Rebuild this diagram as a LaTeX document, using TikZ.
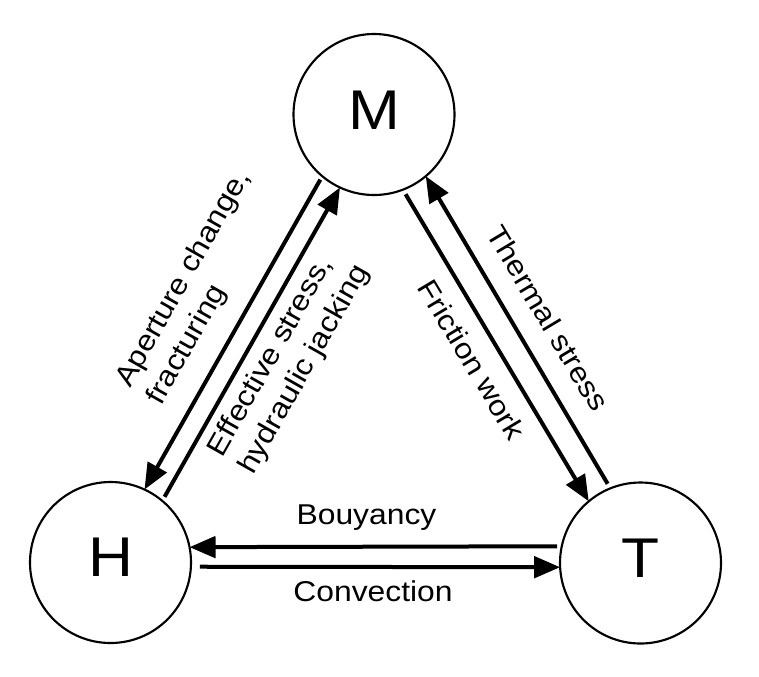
\documentclass[tikz,border=0pt]{standalone}
\usepackage{fontspec}
\setmainfont[FakeStretch=1.11]{Liberation Sans}
\usetikzlibrary{arrows.meta}
\begin{document}
\begin{tikzpicture}[x=0.75pt,y=-0.75pt,
  circ/.style={circle,draw,line width=1.6pt,inner sep=0pt,outer sep=0pt,minimum size=120.75pt},
  big/.style={font=\fontsize{42}{50}\selectfont,inner sep=0pt},
  lbl/.style={font=\fontsize{21.5}{26.6}\selectfont,inner sep=0pt},
  arr/.style={line width=3pt,-{Triangle[length=19.5pt,width=16pt]}}]
\useasboundingbox (0,0) rectangle (759,676);
\node[circ] (M) at (374,114.5) {};
\node[circ] (H) at (110.5,562.5) {};
\node[circ] (T) at (640.5,563) {};
\node[big] (Mt) at (374,110) {M};
\node[big] (Ht) at (110.5,557) {H};
\node[big] (Tt) at (640.5,558) {T};
\draw[arr,shorten <=3pt] (M.230) -- (H.65);
\draw[arr,shorten <=3.5pt] (H.50) -- (M.245);
\draw[arr,shorten <=4pt] (M.291) -- (T.130);
\draw[arr,shorten <=4pt] (T.112) -- (M.310);
\draw[arr,shorten <=3.5pt] (T.168) -- (H.11);
\draw[arr,shorten <=6.75pt] (H.357) -- (T.183);
\node[lbl,rotate=60.5,anchor=base west,align=left] (L1) at (161,406.5) {Aperture change,\\fracturing};
\node[lbl,rotate=60.5,anchor=base west,align=left] (L2) at (253,476) {Effective stress,\\hydraulic jacking};
\node[lbl,rotate=-59.1] (L3) at (548,318) {Thermal stress};
\node[lbl,rotate=-59.1] (L4) at (472,360) {Friction work};
\node[lbl,anchor=base] (L5) at (366.5,524.3) {Bouyancy};
\node[lbl,anchor=base] (L6) at (373,601.5) {Convection};
\end{tikzpicture}
\end{document}
